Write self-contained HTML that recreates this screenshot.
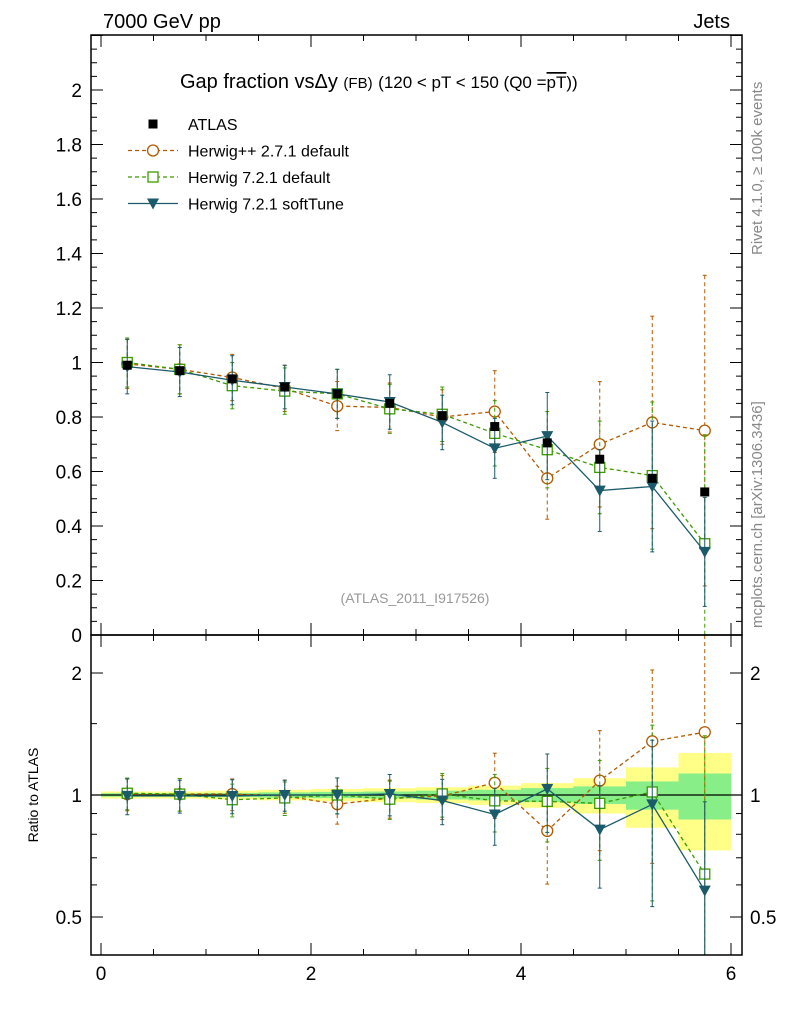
<!DOCTYPE html>
<html><head><meta charset="utf-8"><style>
body{margin:0;background:#fff;font-family:"Liberation Sans",sans-serif}
svg text{font-family:"Liberation Sans",sans-serif}
</style></head><body>
<svg id="c" width="786" height="1024" viewBox="0 0 786 1024" xmlns="http://www.w3.org/2000/svg">
<text x="103" y="28" font-size="20">7000 GeV pp</text>
<text x="730" y="28" font-size="20" text-anchor="end">Jets</text>
<text x="762" y="255" font-size="15" fill="#888" transform="rotate(-90 762 255)">Rivet 4.1.0, ≥ 100k events</text>
<text x="762" y="628" font-size="15" fill="#888" transform="rotate(-90 762 628)">mcplots.cern.ch [arXiv:1306.3436]</text>
<text x="180" y="88" font-size="20">Gap fraction vsΔy <tspan font-size="15">(FB)</tspan> <tspan font-size="17">(120 &lt; pT &lt; 150 (Q0 =</tspan><tspan font-size="17" text-decoration="overline">pT</tspan><tspan font-size="17">))</tspan></text>
<text x="415" y="603" font-size="14" fill="#999" text-anchor="middle">(ATLAS_2011_I917526)</text>
<text x="38" y="795" font-size="14" text-anchor="middle" transform="rotate(-90 38 795)">Ratio to ATLAS</text>
<g id="bands"></g><g id="axes"></g><g id="series"></g><g id="legend"></g>
<rect x="91" y="35" width="651" height="600" fill="none" stroke="#000" stroke-width="1.5"/>
<rect x="91" y="635" width="651" height="320" fill="none" stroke="#000" stroke-width="1.5"/>
</svg>
<script>
const xCenters=[0.25,0.75,1.25,1.75,2.25,2.75,3.25,3.75,4.25,4.75,5.25,5.75];
const atlasVals=[0.99,0.97,0.94,0.91,0.885,0.85,0.805,0.765,0.705,0.645,0.575,0.525];
const hppVals=[0.995,0.975,0.945,0.905,0.84,0.835,0.80,0.82,0.575,0.70,0.78,0.75];
const hppErr=[0.09,0.09,0.085,0.085,0.09,0.09,0.1,0.15,0.15,0.23,0.39,0.57];
const h7Vals=[1.0,0.975,0.915,0.895,0.885,0.83,0.81,0.74,0.68,0.615,0.585,0.335];
const h7Err=[0.09,0.09,0.085,0.085,0.09,0.09,0.1,0.12,0.14,0.17,0.27,0.4];
const stVals=[0.985,0.965,0.935,0.91,0.885,0.855,0.78,0.685,0.73,0.53,0.545,0.305];
const stErr=[0.1,0.09,0.09,0.08,0.09,0.1,0.1,0.11,0.16,0.15,0.24,0.2];
const bandOuter=[0.02,0.02,0.025,0.03,0.035,0.04,0.045,0.055,0.07,0.1,0.17,0.27];
const bandInner=[0.01,0.01,0.012,0.015,0.018,0.02,0.025,0.03,0.04,0.05,0.08,0.13];
const xTicks=[0,2,4,6];
const yTicks=[0,0.2,0.4,0.6,0.8,1,1.2,1.4,1.6,1.8,2];
const rTicks=[0.5,1,2];

const NS='http://www.w3.org/2000/svg';
const X=v=>101+v*105;
const Y=v=>635-v*272.5;
const R=v=>795-Math.log2(v)*122;
function mk(p,t,a){const e=document.createElementNS(NS,t);for(const k in a)e.setAttribute(k,a[k]);p.appendChild(e);return e;}
const gB=document.getElementById('bands'),gA=document.getElementById('axes'),gS=document.getElementById('series'),gL=document.getElementById('legend');
const clipT=R(2.48),clipB=955;
const cl=v=>Math.max(clipT,Math.min(clipB,v));
xCenters.forEach((x,i)=>{
 let b=mk(gB,'rect',{x:X(x-0.25),y:R(1+bandOuter[i]),width:52.5,height:R(1-bandOuter[i])-R(1+bandOuter[i]),fill:'#ffff88'});
 
 let g=mk(gB,'rect',{x:X(x-0.25),y:R(1+bandInner[i]),width:52.5,height:R(1-bandInner[i])-R(1+bandInner[i]),fill:'#88ee88'});
 
});
mk(gB,'line',{x1:91,x2:742,y1:R(1),y2:R(1),stroke:'#000','stroke-width':1.2});
for(let v=0;v<=6.01;v+=0.5){const maj=Math.abs(v-Math.round(v/2)*2)<1e-6;const L=maj?12:6;
 [[635,-1],[35,1],[955,-1],[635,1]].forEach(([y,d])=>mk(gA,'line',{x1:X(v),x2:X(v),y1:y,y2:y+d*L,stroke:'#000'}));}
xTicks.forEach(v=>{const t=mk(gA,'text',{x:X(v),y:980,'font-size':19,'text-anchor':'middle'});t.textContent=v;});
for(let v=0;v<=2.2;v+=0.05){const maj=Math.abs(v*5-Math.round(v*5))<1e-6;const L=maj?12:6;
 mk(gA,'line',{x1:91,x2:91+L,y1:Y(v),y2:Y(v),stroke:'#000'});mk(gA,'line',{x1:742,x2:742-L,y1:Y(v),y2:Y(v),stroke:'#000'});}
yTicks.forEach(v=>{const t=mk(gA,'text',{x:82,y:Y(v)+7,'font-size':19,'text-anchor':'end'});t.textContent=String(Math.round(v*10)/10);});
[0.5,0.6,0.7,0.8,0.9,1,1.5,2].forEach(v=>{const L=rTicks.includes(v)?12:6;
 mk(gA,'line',{x1:91,x2:91+L,y1:R(v),y2:R(v),stroke:'#000'});mk(gA,'line',{x1:742,x2:742-L,y1:R(v),y2:R(v),stroke:'#000'});});
rTicks.forEach(v=>{[[82,'end'],[750,'start']].forEach(([x,a])=>{const t=mk(gA,'text',{x:x,y:R(v)+7,'font-size':19,'text-anchor':a});t.textContent=v;});});
function marker(g,type,col,x,y){
 if(type==='sq')return mk(g,'rect',{x:x-4.5,y:y-4.5,width:9,height:9,fill:'#000'});
 if(type==='circ')return mk(g,'circle',{cx:x,cy:y,r:5.5,fill:'#fff',stroke:col,'stroke-width':1.3});
 if(type==='osq')return mk(g,'rect',{x:x-5,y:y-5,width:10,height:10,fill:'#fff',stroke:col,'stroke-width':1.3});
 return mk(g,'path',{d:`M${x-6},${y-5}L${x+6},${y-5}L${x},${y+6}Z`,fill:col});
}
const series=[
 {name:'herwigpp',vals:hppVals,err:hppErr,col:'#b35a00',dash:'4,3',m:'circ'},
 {name:'herwig7-default',vals:h7Vals,err:h7Err,col:'#3c9a00',dash:'4,3',m:'osq'},
 {name:'herwig7-softtune',vals:stVals,err:stErr,col:'#1a5a6a',dash:'',m:'tri'}];
series.forEach(s=>{
 const g=mk(gS,'g',{});
 const pm=xCenters.map((x,i)=>X(x)+','+Y(s.vals[i])).join(' ');
 mk(g,'polyline',{points:pm,fill:'none',stroke:s.col,'stroke-width':1.3,'stroke-dasharray':s.dash});
 const pr=xCenters.map((x,i)=>X(x)+','+cl(R(s.vals[i]/atlasVals[i]))).join(' ');
 mk(g,'polyline',{points:pr,fill:'none',stroke:s.col,'stroke-width':1.3,'stroke-dasharray':s.dash});
 xCenters.forEach((x,i)=>{
  const v=s.vals[i],e=s.err[i],px=X(x);
  const y1=Math.max(35,Y(v+e)),y2=Math.min(635,Y(v-e));
  mk(g,'line',{x1:px,x2:px,y1:y1,y2:y2,stroke:s.col,'stroke-dasharray':s.dash||'none'});
  mk(g,'line',{x1:px-2,x2:px+2,y1:y1,y2:y1,stroke:s.col});mk(g,'line',{x1:px-2,x2:px+2,y1:y2,y2:y2,stroke:s.col});
  const r=v/atlasVals[i],re=e/atlasVals[i];
  const r1=cl(R(r+re)),r2=r-re>0.05?cl(R(r-re)):clipB;
  mk(g,'line',{x1:px,x2:px,y1:r1,y2:r2,stroke:s.col,'stroke-dasharray':s.dash||'none'});
  mk(g,'line',{x1:px-2,x2:px+2,y1:r1,y2:r1,stroke:s.col});mk(g,'line',{x1:px-2,x2:px+2,y1:r2,y2:r2,stroke:s.col});
  const m=marker(g,s.m,s.col,px,Y(v));
  const m2=marker(g,s.m,s.col,px,cl(R(r)));
 });
});
xCenters.forEach((x,i)=>{const m=marker(gS,'sq','#000',X(x),Y(atlasVals[i]));});
const leg=[['ATLAS','sq','#000',''],['Herwig++ 2.7.1 default','circ','#b35a00','4,3'],['Herwig 7.2.1 default','osq','#3c9a00','4,3'],['Herwig 7.2.1 softTune','tri','#1a5a6a','']];
leg.forEach((l,i)=>{const y=124+i*26.5;const g=mk(gL,'g',{});
 if(i>0)mk(g,'line',{x1:128,x2:178,y1:y,y2:y,stroke:l[2],'stroke-width':1.3,'stroke-dasharray':l[3]});
 marker(g,l[1],l[2],153,y);
 const t=mk(g,'text',{x:188,y:y+6,'font-size':16});t.textContent=l[0];});
</script>
</body></html>
